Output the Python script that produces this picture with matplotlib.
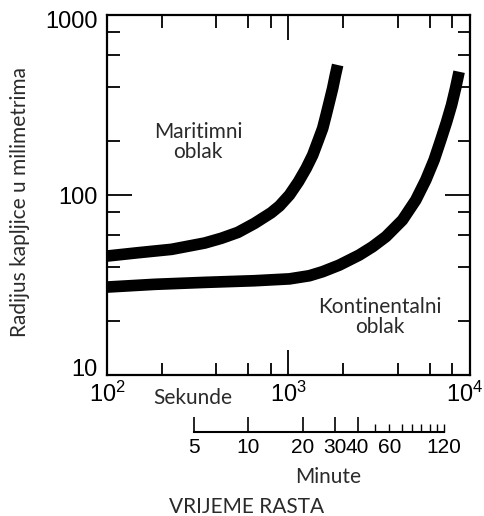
import matplotlib
matplotlib.use("Agg")
import matplotlib.pyplot as plt
from matplotlib import font_manager
from matplotlib.ticker import FixedLocator, FixedFormatter, LogLocator, NullFormatter
from matplotlib.transforms import ScaledTranslation

# growth time in seconds vs droplet radius
maritime_time = [100, 148.6, 226.8, 345.5, 426.9, 526.5, 650.4, 803.3, 892, 1012, 1135,
                 1251, 1360, 1449, 1543, 1611, 1680, 1751, 1813, 1866]
maritime_radius = [45.8, 47.8, 49.9, 54.1, 57.5, 62.0, 69.6, 79.7, 86.9, 100, 118.6,
                   140.6, 166.8, 197.8, 234.6, 278, 330, 391.5, 464, 527.7]

continental_time = [100, 183.5, 345.5, 650.4, 1012.8, 1303, 1543, 1906, 2455, 2905, 3443,
                    4246, 5029, 5709, 6341, 6902, 7429, 7914, 8325, 8710]
continental_radius = [30.8, 31.9, 32.7, 33.4, 34.2, 35.6, 37.5, 40.8, 46.4, 51.6, 58.7,
                      72.6, 93.8, 121.2, 156.5, 202.1, 254.4, 316.2, 391.5, 484]

x_ticks = [100, 1000, 10000]
x_tick_labels = [r"$\mathregular{10^2}$", r"$\mathregular{10^3}$", r"$\mathregular{10^4}$"]
y_ticks = [10, 100, 1000]
y_tick_labels = ["10", "100", "1000"]

# second time scale in minutes
minute_major = [5, 10, 20, 30, 40]
minute_minor = [50, 60, 70, 80, 90, 100, 110, 120]
minute_minor_labels = ["", "60", "", "", "", "", "", "120"]

installed = {f.name for f in font_manager.fontManager.ttflist}


def pick(*names):
    for n in names:
        if n in installed:
            return n
    return "DejaVu Sans"


text_font = pick("Lato", "Open Sans", "Noto Sans")
num_font = pick("Liberation Sans", "DejaVu Sans")
narrow_font = pick("Liberation Sans Narrow", "Liberation Sans", "DejaVu Sans")

plt.rcParams["mathtext.fontset"] = "custom"
plt.rcParams["mathtext.rm"] = num_font

W, H = 485, 516
fig = plt.figure(figsize=(W / 100, H / 100), dpi=100)

# main log-log axes
ax = fig.add_axes([107 / W, 1 - 375 / H, (470 - 107) / W, (375 - 15) / H])
ax.set_xscale("log")
ax.set_yscale("log")
ax.set_xlim(100, 10000)
ax.set_ylim(10, 1000)

ax.plot(maritime_time, maritime_radius, color="black", lw=8.4,
        solid_capstyle="butt", solid_joinstyle="round")
ax.plot(continental_time, continental_radius, color="black", lw=8.4,
        solid_capstyle="butt", solid_joinstyle="round")

for s in ax.spines.values():
    s.set_linewidth(1.6)

ax.xaxis.set_major_locator(FixedLocator(x_ticks))
ax.xaxis.set_minor_locator(LogLocator(base=10, subs=(2, 4, 6, 8)))
ax.xaxis.set_minor_formatter(NullFormatter())
ax.yaxis.set_major_locator(FixedLocator(y_ticks))
ax.yaxis.set_minor_locator(LogLocator(base=10, subs=(2, 4, 6, 8)))
ax.yaxis.set_minor_formatter(NullFormatter())
ax.set_xticklabels(x_tick_labels, fontsize=17, family=num_font)
ax.set_yticklabels(y_tick_labels, fontsize=17, family=num_font)

ax.tick_params(which="both", direction="in", top=True, right=True, width=1.3)
ax.tick_params(which="major", length=18)
ax.tick_params(which="minor", length=9)
ax.tick_params(axis="x", which="major", pad=5)
ax.tick_params(axis="y", which="major", pad=7)


def nudge(label, dx_px, dy_px):
    label.set_transform(label.get_transform()
                        + ScaledTranslation(dx_px / 100, dy_px / 100, fig.dpi_scale_trans))


# small label shifts as in the original: keep corner labels apart and inside
xl = ax.get_xticklabels()
yl = ax.get_yticklabels()
nudge(xl[-1], -5, 0)
nudge(yl[0], 0, 7)
nudge(yl[-1], 0, -4)

# minute scale under the seconds axis
axm = fig.add_axes([107 / W, 1 - 432 / H, (470 - 107) / W, 0.01])
axm.set_xscale("log")
axm.set_xlim(100 / 60, 10000 / 60)
axm.patch.set_visible(False)
for side in ["top", "left", "right"]:
    axm.spines[side].set_visible(False)
axm.spines["bottom"].set_linewidth(1.5)
axm.spines["bottom"].set_bounds(minute_major[0], minute_minor[-1])
axm.set_yticks([])
axm.xaxis.set_major_locator(FixedLocator(minute_major))
axm.xaxis.set_major_formatter(FixedFormatter([str(v) for v in minute_major]))
axm.xaxis.set_minor_locator(FixedLocator(minute_minor))
axm.xaxis.set_minor_formatter(FixedFormatter(minute_minor_labels))
axm.tick_params(which="both", direction="in", pad=4, labelsize=15,
                labelfontfamily=narrow_font)
axm.tick_params(which="major", length=11, width=1.2)
axm.tick_params(which="minor", length=6, width=1.0)

# texts
gray = "#2a2a2a"
fig.text(198 / W, 1 - 142 / H, "Maritimni\noblak", ha="center", va="center",
         fontsize=15, family=text_font, color=gray, linespacing=1.0)
fig.text(380 / W, 1 - 317 / H, "Kontinentalni\noblak", ha="center", va="center",
         fontsize=15, family=text_font, color=gray, linespacing=1.0)
fig.text(20 / W, 1 - 202 / H, "Radijus kapljice u milimetrima", rotation=90,
         ha="center", va="center", fontsize=15, family=text_font, color=gray)
fig.text(193 / W, 1 - 398 / H, "Sekunde", ha="center", va="center",
         fontsize=15, family=text_font, color=gray)
fig.text(328 / W, 1 - 477 / H, "Minute", ha="center", va="center",
         fontsize=15, family=text_font, color=gray)
fig.text(247 / W, 1 - 507 / H, "VRIJEME RASTA", ha="center", va="center",
         fontsize=15, family=text_font, color=gray)

fig.savefig("out.png", dpi=100)
